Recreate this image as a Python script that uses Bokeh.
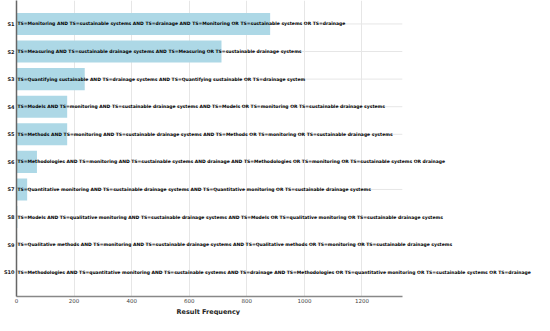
from bokeh.plotting import figure
from bokeh.models import ColumnDataSource, Range1d, FixedTicker, Label, Title
from bokeh.embed import file_html
from bokeh.resources import INLINE

labels = ["S1", "S2", "S3", "S4", "S5", "S6", "S7", "S8", "S9", "S10"]
frequencies = [881, 712, 237, 176, 176, 71, 37, 3, 2, 1]
queries = [
    "TS=Monitoring AND TS=sustainable systems AND TS=drainage AND  TS=Monitoring OR TS=sustainable systems OR TS=drainage",
    "TS=Measuring AND TS=sustainable drainage systems  AND TS=Measuring OR TS=sustainable drainage systems",
    "TS=Quantifying sustainable AND TS=drainage systems AND TS=Quantifying sustainable OR TS=drainage system",
    "TS=Models AND TS=monitoring AND TS=sustainable drainage systems AND TS=Models OR TS=monitoring OR TS=sustainable drainage systems",
    "TS=Methods AND TS=monitoring AND TS=sustainable drainage systems AND TS=Methods OR TS=monitoring OR TS=sustainable drainage systems",
    "TS=Methodologies AND TS=monitoring AND TS=sustainable systems AND drainage AND TS=Methodologies OR TS=monitoring OR TS=sustainable systems OR drainage",
    "TS=Quantitative monitoring AND TS=sustainable drainage systems AND TS=Quantitative monitoring OR TS=sustainable drainage systems",
    "TS=Models AND TS=qualitative monitoring AND TS=sustainable drainage systems AND TS=Models OR TS=qualitative monitoring OR TS=sustainable drainage systems",
    "TS=Qualitative methods AND TS=monitoring AND TS=sustainable drainage systems AND TS=Qualitative methods OR TS=monitoring OR TS=sustainable drainage systems",
    "TS=Methodologies AND TS=quantitative monitoring AND TS=sustainable systems AND TS=drainage AND TS=Methodologies OR TS=quantitative monitoring OR TS=sustainable systems OR TS=drainage",
]
x_ticks = [0, 200, 400, 600, 800, 1000, 1200]
x_axis_max = 1340
x_title = "Result Frequency"

pos = list(range(len(labels)))
src = ColumnDataSource(dict(y=pos, f=frequencies))
grid_src = ColumnDataSource(dict(y=pos, x0=[0] * len(pos), x1=[x_axis_max] * len(pos)))

p = figure(width=540, height=315, output_backend="svg", toolbar_location=None,
           x_range=Range1d(0, 1820), y_range=Range1d(9.88, -0.85),
           min_border_left=0, min_border_top=0, min_border_right=0, min_border_bottom=0)
p.outline_line_color = None
p.background_fill_color = "white"

p.segment(x0="x0", x1="x1", y0="y", y1="y", source=grid_src, line_color="#e6e6e6",
          line_width=1, level="underlay")
p.hbar(y="y", left=0, right="f", height=0.8, source=src, color="#add8e6", line_color=None)

for yi, q in zip(pos, queries):
    p.add_layout(Label(x=0, y=yi, text=q, x_offset=1, text_align="left",
                       text_baseline="middle", text_font="DejaVu Sans",
                       text_font_style="bold", text_font_size="4.5px",
                       text_color="black"))

p.xgrid.grid_line_color = "#e6e6e6"
p.ygrid.grid_line_color = None
p.xaxis.ticker = FixedTicker(ticks=x_ticks)
p.xaxis.bounds = (0, x_axis_max)
p.yaxis.ticker = FixedTicker(ticks=pos)
p.yaxis.major_label_overrides = {i: l for i, l in zip(pos, labels)}

p.add_layout(Title(text=x_title, align="left", offset=160, standoff=0,
                   text_font="DejaVu Sans", text_font_style="bold",
                   text_font_size="6.5px", text_color="#222222"), "below")

p.xaxis.major_label_text_font = "DejaVu Sans"
p.xaxis.major_label_text_font_size = "5.5px"
p.xaxis.major_label_text_color = "#444444"
p.xaxis.major_label_standoff = 1
p.xaxis.major_tick_out = 0
p.xaxis.major_tick_in = 0
p.xaxis.minor_tick_line_color = None
p.xaxis.axis_line_color = "#888888"
p.xaxis.axis_line_width = 1.5

p.yaxis.major_label_text_font = "DejaVu Sans"
p.yaxis.major_label_text_font_style = "bold"
p.yaxis.major_label_text_font_size = "5px"
p.yaxis.major_label_text_color = "#222222"
p.yaxis.major_label_standoff = 2
p.yaxis.major_tick_out = 0
p.yaxis.major_tick_in = 0
p.yaxis.minor_tick_line_color = None
p.yaxis.axis_line_color = "#666666"
p.yaxis.axis_line_width = 1.5

html = file_html(p, INLINE)
open("out.html", "w").write(html)
